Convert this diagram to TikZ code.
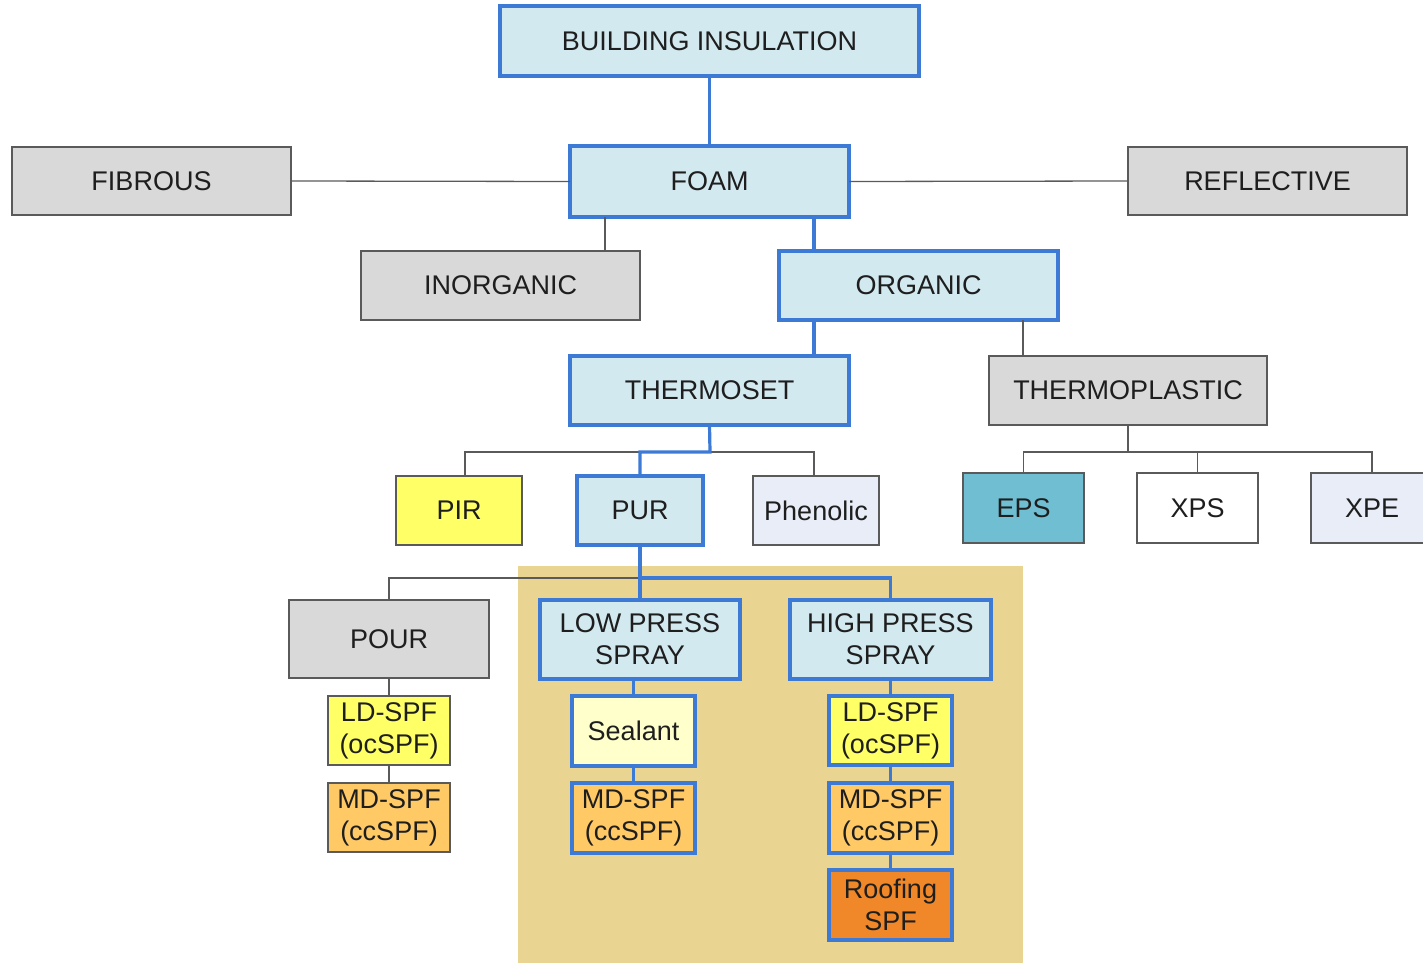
\documentclass[tikz,border=0pt]{standalone}
\usepackage{fontspec}
\setmainfont{Liberation Sans}
\usetikzlibrary{calc}
\definecolor{bblue}{RGB}{60,122,214}
\definecolor{lblue}{RGB}{210,233,239}
\definecolor{gfill}{RGB}{217,217,217}
\definecolor{gline}{RGB}{90,90,90}
\definecolor{yel}{RGB}{255,255,102}
\definecolor{pale}{RGB}{232,237,247}
\definecolor{teal}{RGB}{111,190,210}
\definecolor{tan}{RGB}{233,213,145}
\definecolor{cream}{RGB}{255,255,204}
\definecolor{mdor}{RGB}{255,201,102}
\definecolor{roof}{RGB}{240,135,40}
\definecolor{txt}{RGB}{30,30,30}
\newcommand{\bx}[7]{\node[#6, minimum width={(#4-#2)*0.5pt}, minimum height={(#5-#3)*0.5pt}] (#1) at ({(#2+#4)/2},{(#3+#5)/2}) {#7};}
\tikzset{
  base/.style={rectangle, inner sep=0pt, outer sep=0pt, align=center, text=txt,
    font=\fontsize{13.5pt}{16pt}\selectfont},
  bluebox/.style={base, draw=bblue, line width=1.6pt, fill=lblue},
  graybox/.style={base, draw=gline, line width=0.8pt, fill=gfill},
  thinbox/.style={base, draw=gline, line width=0.8pt, fill=#1},
  bbox/.style={base, draw=bblue, line width=1.6pt, fill=#1},
  blueln/.style={draw=bblue, line width=1.6pt},
  thinln/.style={draw=gline, line width=0.65pt},
}
\begin{document}
\begin{tikzpicture}[x=0.5pt,y=-0.5pt]
\useasboundingbox (0,0) rectangle (1423,963);
\fill[tan] (518,566) rectangle (1023,963);

\bx{bi}{500}{6}{919}{76}{bluebox}{BUILDING INSULATION}
\bx{foam}{570}{146}{849}{217}{bluebox}{FOAM}
\bx{fib}{12}{147}{291}{215}{graybox}{FIBROUS}
\bx{refl}{1128}{147}{1407}{215}{graybox}{REFLECTIVE}
\bx{inorg}{361}{251}{640}{320}{graybox}{INORGANIC}
\bx{org}{779}{251}{1058}{320}{bluebox}{ORGANIC}
\bx{tset}{570}{356}{849}{425}{bluebox}{THERMOSET}
\bx{tplast}{989}{356}{1267}{425}{graybox}{THERMOPLASTIC}
\bx{pir}{396}{476}{522}{545}{thinbox=yel}{PIR}
\bx{pur}{577}{476}{703}{545}{bluebox}{PUR}
\bx{phen}{753}{476}{879}{545}{thinbox=pale}{Phenolic}
\bx{eps}{963}{473}{1084}{543}{thinbox=teal}{EPS}
\bx{xps}{1137}{473}{1258}{543}{thinbox=white}{XPS}
\bx{xpe}{1311}{473}{1433}{543}{thinbox=pale}{XPE}
\bx{pour}{289}{600}{489}{678}{graybox}{POUR}
\bx{low}{540}{600}{740}{679}{bluebox}{LOW PRESS\\SPRAY}
\bx{high}{790}{600}{991}{679}{bluebox}{HIGH PRESS\\SPRAY}
\bx{ldl}{328}{696}{450}{765}{thinbox=yel}{LD-SPF\\(ocSPF)}
\bx{mdl}{328}{783}{450}{852}{thinbox=mdor}{MD-SPF\\(ccSPF)}
\bx{seal}{572}{696}{695}{766}{bbox=cream}{Sealant}
\bx{mdm}{572}{783}{695}{853}{bbox=mdor}{MD-SPF\\(ccSPF)}
\bx{ldh}{829}{696}{952}{765}{bbox=yel}{LD-SPF\\(ocSPF)}
\bx{mdh}{829}{783}{952}{853}{bbox=mdor}{MD-SPF\\(ccSPF)}
\bx{roofing}{829}{870}{952}{940}{bbox=roof}{Roofing\\SPF}

% connectors
\coordinate (cf1) at (605,217);
\coordinate (cf2) at (814,217);
\coordinate (co1) at (1023,320);
\coordinate (j2) at (710,452);
\coordinate (jp) at (465,452);
\coordinate (jh) at (814,452);
\coordinate (j3) at (1128,452);
\coordinate (j1) at (640,578);

\draw[blueln] (bi.south) -- (foam.north);
\draw[thinln] (fib.east) -- (foam.west);
\draw[thinln] (foam.east) -- (refl.west);
\draw[thinln] (cf1) -- (cf1 |- inorg.north);
\draw[blueln] (cf2) -- (cf2 |- org.north);
\draw[blueln] (cf2 |- org.south) -- (cf2 |- tset.north);
\draw[thinln] (co1) -- (co1 |- tplast.north);

\draw[thinln] (jp |- pir.north) -- (jp) -- (jh) -- (jh |- phen.north);
\draw[blueln] (tset.south) -- (j2) -- (j2 -| pur.north) -- (pur.north);

\draw[thinln] (tplast.south) -- (j3);
\draw[thinln] (eps.north) -- (eps.north |- j3) -- (xpe.north |- j3) -- (xpe.north);
\draw[thinln] (xps.north) -- (xps.north |- j3);

\draw[thinln] (j1) -- (j1 -| pour.north) -- (pour.north);
\draw[blueln] (pur.south) -- (j1) -- (j1 -| high.north) -- (high.north);
\draw[blueln] (j1) -- (low.north);

\draw[thinln] (pour.south) -- (ldl.north);
\draw[thinln] (ldl.south) -- (mdl.north);
\draw[blueln] (seal.north) -- (seal.north |- low.south);
\draw[blueln] (seal.south) -- (mdm.north);
\draw[blueln] (ldh.north) -- (ldh.north |- high.south);
\draw[blueln] (ldh.south) -- (mdh.north);
\draw[blueln] (mdh.south) -- (roofing.north);
\end{tikzpicture}
\end{document}
